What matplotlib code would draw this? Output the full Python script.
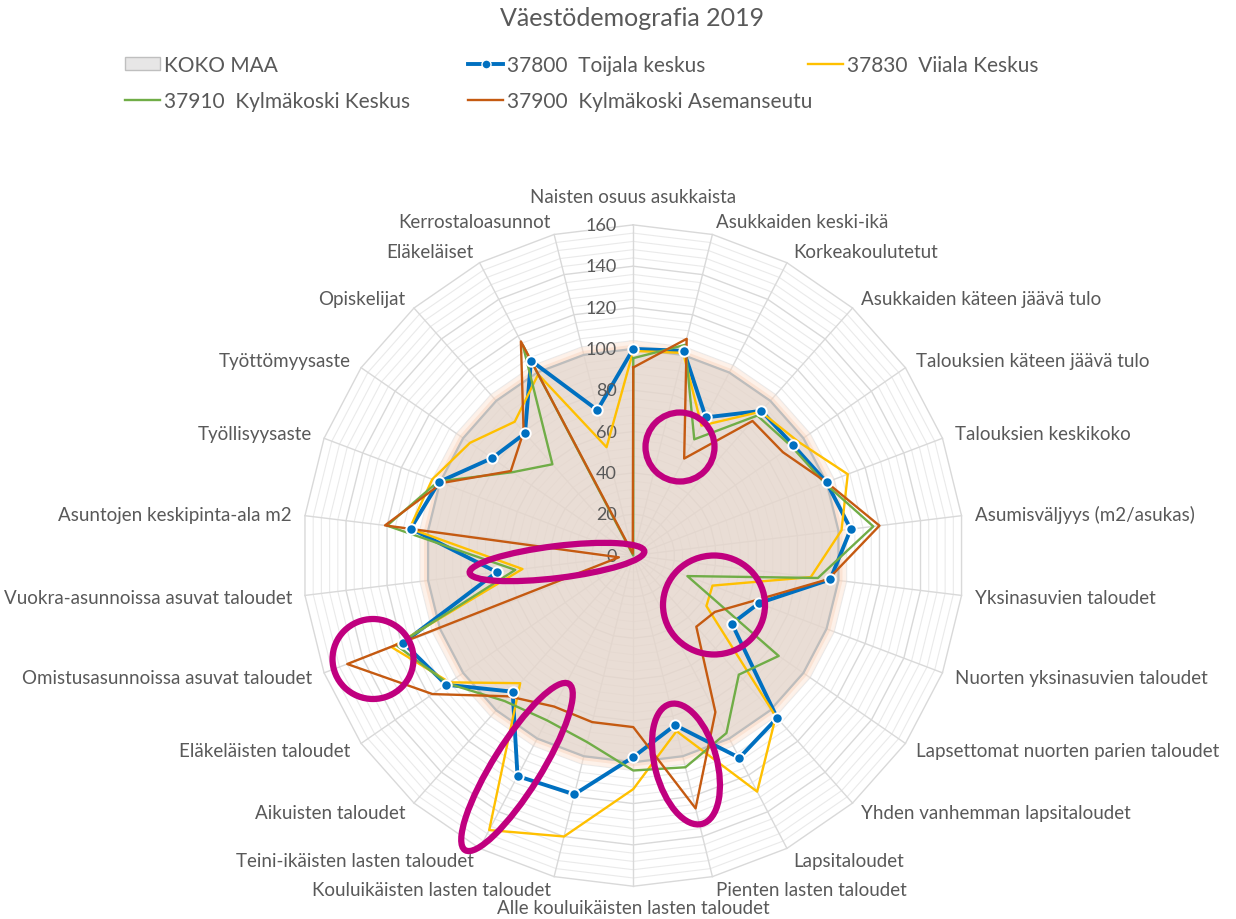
import numpy as np
import matplotlib
matplotlib.use('Agg')
import matplotlib.pyplot as plt
from matplotlib.lines import Line2D
from matplotlib.patches import Patch, Ellipse

plt.rcParams['font.family'] = ['Lato', 'DejaVu Sans']

categories = ['Naisten osuus asukkaista', 'Asukkaiden keski-ikä', 'Korkeakoulutetut',
              'Asukkaiden käteen jäävä tulo', 'Talouksien käteen jäävä tulo',
              'Talouksien keskikoko', 'Asumisväljyys (m2/asukas)', 'Yksinasuvien taloudet',
              'Nuorten yksinasuvien taloudet', 'Lapsettomat nuorten parien taloudet',
              'Yhden vanhemman lapsitaloudet', 'Lapsitaloudet', 'Pienten lasten taloudet',
              'Alle kouluikäisten lasten taloudet', 'Kouluikäisten lasten taloudet',
              'Teini-ikäisten lasten taloudet', 'Aikuisten taloudet', 'Eläkeläisten taloudet',
              'Omistusasunnoissa asuvat taloudet', 'Vuokra-asunnoissa asuvat taloudet',
              'Asuntojen keskipinta-ala m2', 'Työllisyysaste', 'Työttömyysaste',
              'Opiskelijat', 'Eläkeläiset', 'Kerrostaloasunnot']

koko_maa = [100, 100, 100, 100, 100, 100, 100, 100, 100, 100, 100, 100, 100,
            100, 100, 100, 100, 100, 100, 100, 100, 100, 100, 100, 100, 100]
toijala = [100, 102, 75.5, 93.5, 94, 100, 106, 96, 65, 58, 105, 110.5, 84.5,
           97.5, 119, 120.5, 88, 110, 119, 66.5, 108.5, 100.5, 83, 79, 106.5, 72.5]
viiala = [99, 101, 71, 93, 97, 111, 101.5, 86.5, 41, 43, 104, 129, 87.5,
          113, 140, 150, 82.5, 108, 125, 54, 109, 104, 96, 86.5, 99, 54]
kylmakoski_keskus = [95.5, 105, 63.5, 90.5, 93, 99, 117, 90, 28, 85.5, 77, 97, 105.5,
                     104, 93, 90, 94, 109, 122.5, 57.5, 120, 101, 71, 59, 115, 0]
kylmakoski_asema = [91, 108, 53, 87, 88, 100, 120, 95, 62, 48, 46, 85.5, 126,
                    83, 83, 82.5, 91, 118, 148, 7, 121, 99, 72, 80, 117, 1]

series_names = ['KOKO MAA', '37800  Toijala keskus', '37830  Viiala Keskus',
                '37910  Kylmäkoski Keskus', '37900  Kylmäkoski Asemanseutu']

txt = '#595959'
fs = 13.5

fig = plt.figure(figsize=(12.36, 9.2), dpi=100)
ax = fig.add_axes([0.2448, 0.0356, 0.5351, 0.7189], projection='polar')
ax.set_theta_offset(np.pi / 2)
ax.set_theta_direction(-1)
ax.set_ylim(0, 160)
ax.set_xticks([])
ax.set_yticks([])
ax.grid(False)
ax.spines['polar'].set_visible(False)
ax.patch.set_alpha(0)

n = len(categories)
theta = np.arange(n) * 2 * np.pi / n
tc = np.append(theta, theta[0])


def closed(v):
    return np.append(v, v[0])


# polygon gridlines (minor every 4, major every 20) and spokes
for r in range(4, 161, 4):
    if r % 20 == 0:
        ax.plot(tc, [r] * (n + 1), color='#D9D9D9', lw=1.0, zorder=0, clip_on=False)
    else:
        ax.plot(tc, [r] * (n + 1), color='#EAEAEA', lw=0.8, zorder=0, clip_on=False)
for t in theta:
    ax.plot([t, t], [0, 160], color='#D9D9D9', lw=1.0, zorder=0, clip_on=False)

# KOKO MAA area with soft glow
ax.plot(tc, closed(np.array(koko_maa) + 1.5), color='#FBE0CF', lw=7, alpha=0.45, zorder=1)
ax.plot(tc, closed(np.array(koko_maa) + 0.8), color='#F8CBAD', lw=3.5, alpha=0.35, zorder=1)
ax.fill(tc, closed(koko_maa), color='#E5D6CC', alpha=0.82, zorder=1.5, lw=0)
ax.plot(tc, closed(koko_maa), color='#BDBDBD', lw=1.6, zorder=1.6)

# series
ax.plot(tc, closed(toijala), color='#0070C0', lw=2.8, zorder=3)
ax.plot(tc, closed(viiala), color='#FFC000', lw=1.7, zorder=3.1)
ax.plot(tc, closed(kylmakoski_keskus), color='#70AD47', lw=1.7, zorder=3.2)
ax.plot(tc, closed(kylmakoski_asema), color='#C55A11', lw=1.7, zorder=3.3)
ax.plot(theta, toijala, ls='none', marker='o', ms=7.5, mfc='#0070C0', mec='white',
        mew=1.4, zorder=4, clip_on=False)

# radial value labels
for v in range(0, 161, 20):
    ax.annotate(str(v), xy=(0, v), xytext=(-12, 0), textcoords='offset points',
                ha='right', va='center', color=txt, fontsize=13)

# category labels
for k, (t, lab) in enumerate(zip(theta, categories)):
    s, c = np.sin(t), np.cos(t)
    gap = 9.5
    if abs(s) < 0.01:
        ha = 'center'
        va = 'bottom' if c > 0 else 'top'
        if c > 0:
            gap = 14
    else:
        ha = 'left' if s > 0 else 'right'
        va = 'center'
    ax.annotate(lab, xy=(t, 160), xytext=(gap * s, gap * c), textcoords='offset points',
                ha=ha, va=va, color=txt, fontsize=fs, annotation_clip=False)

fig.text(632 / 1236, 1 - 19 / 920, 'Väestödemografia 2019', ha='center', va='center',
         color=txt, fontsize=18)

# legend, laid out in three columns like the original
h_koko = Patch(facecolor='#E7E6E6', edgecolor='#BFBFBF')
h_toi = Line2D([], [], color='#0070C0', lw=2.8, marker='o', ms=6.5, mfc='#0070C0',
               mec='white', mew=1.0)
h_vii = Line2D([], [], color='#FFC000', lw=1.7)
h_kk = Line2D([], [], color='#70AD47', lw=1.7)
h_ka = Line2D([], [], color='#C55A11', lw=1.7)

cols = [([h_koko, h_kk], [series_names[0], series_names[3]], 125),
        ([h_toi, h_ka], [series_names[1], series_names[4]], 468),
        ([h_vii], [series_names[2]], 808)]
for hs, labs, x0 in cols:
    fig.legend(hs, labs, loc='upper left', bbox_to_anchor=(x0 / 1236, 1 - 56 / 920),
               bbox_transform=fig.transFigure, frameon=False, borderpad=0,
               borderaxespad=0, handlelength=1.7, handleheight=0.6, handletextpad=0.15,
               labelspacing=0.78, fontsize=15, labelcolor=txt)

# magenta highlight rings
ov = fig.add_axes([0, 0, 1, 1])
ov.set_xlim(0, 1236)
ov.set_ylim(920, 0)
ov.axis('off')
ov.patch.set_alpha(0)
rings = [((680, 448), 69, 69, 0),
         ((557, 563), 176, 32, -7),
         ((714, 606), 102, 99, 0),
         ((373, 660), 81, 80, 0),
         ((517, 768), 196, 48, -58),
         ((686, 765), 124, 62, 75)]
for xy, w, h, a in rings:
    ov.add_patch(Ellipse(xy, w, h, angle=a, fill=False, edgecolor='#C0007F', lw=4.5))

fig.savefig('out.png', dpi=100)
